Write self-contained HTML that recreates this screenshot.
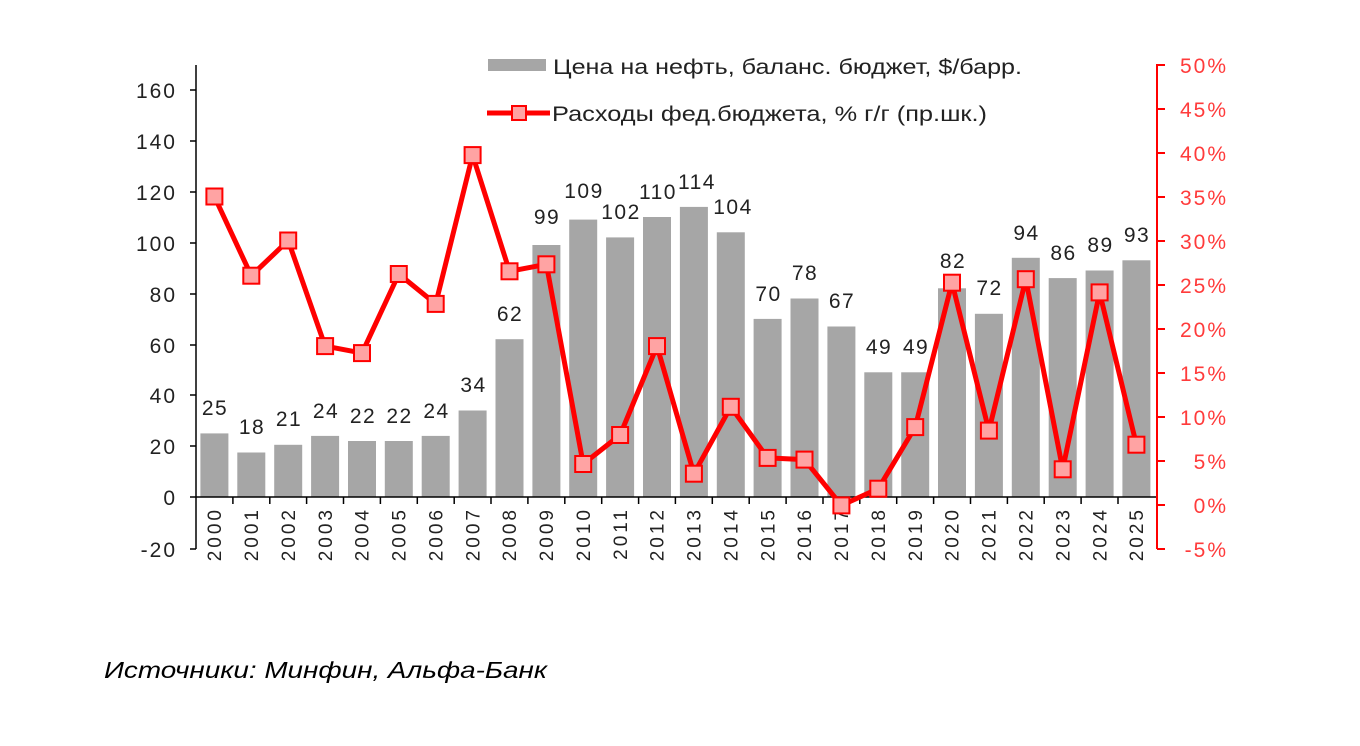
<!DOCTYPE html>
<html><head><meta charset="utf-8"><style>body{margin:0;background:#fff}svg{display:block}</style></head><body>
<svg width="1360" height="746" xmlns="http://www.w3.org/2000/svg" font-family="Liberation Sans, Arial, sans-serif">
<g fill="#a6a6a6">
<rect x="200.4" y="433.4" width="28" height="63.6"/><rect x="237.3" y="452.5" width="28" height="44.5"/><rect x="274.2" y="444.8" width="28" height="52.2"/><rect x="311.1" y="435.9" width="28" height="61.1"/><rect x="348" y="441" width="28" height="56"/><rect x="384.8" y="441" width="28" height="56"/><rect x="421.7" y="435.9" width="28" height="61.1"/><rect x="458.6" y="410.5" width="28" height="86.5"/><rect x="495.5" y="339.2" width="28" height="157.8"/><rect x="532.4" y="245" width="28" height="252"/><rect x="569.2" y="219.6" width="28" height="277.4"/><rect x="606.1" y="237.4" width="28" height="259.6"/><rect x="643" y="217" width="28" height="280"/><rect x="679.9" y="206.9" width="28" height="290.1"/><rect x="716.8" y="232.3" width="28" height="264.7"/><rect x="753.6" y="318.9" width="28" height="178.1"/><rect x="790.5" y="298.5" width="28" height="198.5"/><rect x="827.4" y="326.5" width="28" height="170.5"/><rect x="864.3" y="372.3" width="28" height="124.7"/><rect x="901.2" y="372.3" width="28" height="124.7"/><rect x="938" y="288.3" width="28" height="208.7"/><rect x="974.9" y="313.8" width="28" height="183.2"/><rect x="1011.8" y="257.8" width="28" height="239.2"/><rect x="1048.7" y="278.1" width="28" height="218.9"/><rect x="1085.6" y="270.5" width="28" height="226.5"/><rect x="1122.4" y="260.3" width="28" height="236.7"/>
</g>
<g font-size="21" fill="#222" text-anchor="middle" letter-spacing="1.5">
<text x="215" y="415">25</text><text x="252" y="434">18</text><text x="289" y="426">21</text><text x="326" y="418">24</text><text x="363" y="423">22</text><text x="399.5" y="423">22</text><text x="436.5" y="418">24</text><text x="473.5" y="392">34</text><text x="510" y="321">62</text><text x="547" y="224">99</text><text x="584" y="198">109</text><text x="621" y="219">102</text><text x="658" y="199">110</text><text x="697" y="189">114</text><text x="733" y="214">104</text><text x="768.5" y="301">70</text><text x="805" y="280">78</text><text x="842" y="308">67</text><text x="879" y="354">49</text><text x="916" y="354">49</text><text x="953" y="268">82</text><text x="989.5" y="295">72</text><text x="1026.5" y="240">94</text><text x="1063.5" y="260">86</text><text x="1100.5" y="252">89</text><text x="1137" y="242">93</text>
</g>
<g stroke="#000" stroke-width="1.5">
<line x1="196" y1="65" x2="196" y2="549"/>
<line x1="196" y1="497" x2="1157" y2="497"/>
<line x1="190" y1="90" x2="196" y2="90"/><line x1="190" y1="141" x2="196" y2="141"/><line x1="190" y1="192" x2="196" y2="192"/><line x1="190" y1="243" x2="196" y2="243"/><line x1="190" y1="294" x2="196" y2="294"/><line x1="190" y1="345" x2="196" y2="345"/><line x1="190" y1="395" x2="196" y2="395"/><line x1="190" y1="446" x2="196" y2="446"/><line x1="190" y1="497" x2="196" y2="497"/><line x1="190" y1="549" x2="196" y2="549"/>
<line x1="232.9" y1="497" x2="232.9" y2="504"/><line x1="269.8" y1="497" x2="269.8" y2="504"/><line x1="306.6" y1="497" x2="306.6" y2="504"/><line x1="343.5" y1="497" x2="343.5" y2="504"/><line x1="380.4" y1="497" x2="380.4" y2="504"/><line x1="417.3" y1="497" x2="417.3" y2="504"/><line x1="454.2" y1="497" x2="454.2" y2="504"/><line x1="491" y1="497" x2="491" y2="504"/><line x1="527.9" y1="497" x2="527.9" y2="504"/><line x1="564.8" y1="497" x2="564.8" y2="504"/><line x1="601.7" y1="497" x2="601.7" y2="504"/><line x1="638.6" y1="497" x2="638.6" y2="504"/><line x1="675.4" y1="497" x2="675.4" y2="504"/><line x1="712.3" y1="497" x2="712.3" y2="504"/><line x1="749.2" y1="497" x2="749.2" y2="504"/><line x1="786.1" y1="497" x2="786.1" y2="504"/><line x1="823" y1="497" x2="823" y2="504"/><line x1="859.8" y1="497" x2="859.8" y2="504"/><line x1="896.7" y1="497" x2="896.7" y2="504"/><line x1="933.6" y1="497" x2="933.6" y2="504"/><line x1="970.5" y1="497" x2="970.5" y2="504"/><line x1="1007.4" y1="497" x2="1007.4" y2="504"/><line x1="1044.2" y1="497" x2="1044.2" y2="504"/><line x1="1081.1" y1="497" x2="1081.1" y2="504"/><line x1="1118" y1="497" x2="1118" y2="504"/>
</g>
<g font-size="21" fill="#222" text-anchor="end" letter-spacing="2">
<text x="177" y="98">160</text><text x="177" y="149">140</text><text x="177" y="200">120</text><text x="177" y="251">100</text><text x="177" y="302">80</text><text x="177" y="353">60</text><text x="177" y="403">40</text><text x="177" y="454">20</text><text x="177" y="505">0</text><text x="177" y="557">-20</text>
</g>
<g stroke="#ff0000" stroke-width="2">
<line x1="1157" y1="64" x2="1157" y2="549"/>
<line x1="1157" y1="65" x2="1165" y2="65"/><line x1="1157" y1="109" x2="1165" y2="109"/><line x1="1157" y1="153" x2="1165" y2="153"/><line x1="1157" y1="197" x2="1165" y2="197"/><line x1="1157" y1="241" x2="1165" y2="241"/><line x1="1157" y1="285" x2="1165" y2="285"/><line x1="1157" y1="329" x2="1165" y2="329"/><line x1="1157" y1="373" x2="1165" y2="373"/><line x1="1157" y1="417" x2="1165" y2="417"/><line x1="1157" y1="461" x2="1165" y2="461"/><line x1="1157" y1="505" x2="1165" y2="505"/><line x1="1157" y1="549" x2="1165" y2="549"/>
</g>
<g font-size="21" fill="#ff3b3b" text-anchor="end" letter-spacing="2">
<text x="1228" y="73">50%</text><text x="1228" y="117">45%</text><text x="1228" y="161">40%</text><text x="1228" y="205">35%</text><text x="1228" y="249">30%</text><text x="1228" y="293">25%</text><text x="1228" y="337">20%</text><text x="1228" y="381">15%</text><text x="1228" y="425">10%</text><text x="1228" y="469">5%</text><text x="1228" y="513">0%</text><text x="1228" y="557">-5%</text>
</g>
<g font-size="19" fill="#222" text-anchor="end" letter-spacing="3">
<text transform="translate(221,507) rotate(-90)">2000</text><text transform="translate(258,507) rotate(-90)">2001</text><text transform="translate(294.9,507) rotate(-90)">2002</text><text transform="translate(331.8,507) rotate(-90)">2003</text><text transform="translate(368.7,507) rotate(-90)">2004</text><text transform="translate(405.5,507) rotate(-90)">2005</text><text transform="translate(442.4,507) rotate(-90)">2006</text><text transform="translate(479.3,507) rotate(-90)">2007</text><text transform="translate(516.2,507) rotate(-90)">2008</text><text transform="translate(553.1,507) rotate(-90)">2009</text><text transform="translate(589.9,507) rotate(-90)">2010</text><text transform="translate(626.8,507) rotate(-90)">2011</text><text transform="translate(663.7,507) rotate(-90)">2012</text><text transform="translate(700.6,507) rotate(-90)">2013</text><text transform="translate(737.5,507) rotate(-90)">2014</text><text transform="translate(774.3,507) rotate(-90)">2015</text><text transform="translate(811.2,507) rotate(-90)">2016</text><text transform="translate(848.1,507) rotate(-90)">2017</text><text transform="translate(885,507) rotate(-90)">2018</text><text transform="translate(921.9,507) rotate(-90)">2019</text><text transform="translate(958.7,507) rotate(-90)">2020</text><text transform="translate(995.6,507) rotate(-90)">2021</text><text transform="translate(1032.5,507) rotate(-90)">2022</text><text transform="translate(1069.4,507) rotate(-90)">2023</text><text transform="translate(1106.3,507) rotate(-90)">2024</text><text transform="translate(1143.1,507) rotate(-90)">2025</text>
</g>
<polyline fill="none" stroke="#ff0000" stroke-width="5" stroke-linejoin="round" points="214.4,196.5 251.3,275.7 288.2,240.5 325.1,346.1 362,353.1 398.8,274 435.7,303.9 472.6,155.1 509.5,271.3 546.4,264.3 583.2,464 620.1,435 657,346.1 693.9,473.7 730.8,406.8 767.6,457.9 804.5,459.6 841.4,505.4 878.3,488.7 915.2,427.1 952,282.7 988.9,430.6 1025.8,279.2 1062.7,469.3 1099.6,292.4 1136.4,444.7"/>
<g fill="#ffa3a3" stroke="#ff0000" stroke-width="2">
<rect x="206.4" y="188.5" width="16" height="16"/><rect x="243.3" y="267.7" width="16" height="16"/><rect x="280.2" y="232.5" width="16" height="16"/><rect x="317.1" y="338.1" width="16" height="16"/><rect x="354" y="345.1" width="16" height="16"/><rect x="390.8" y="266" width="16" height="16"/><rect x="427.7" y="295.9" width="16" height="16"/><rect x="464.6" y="147.1" width="16" height="16"/><rect x="501.5" y="263.3" width="16" height="16"/><rect x="538.4" y="256.3" width="16" height="16"/><rect x="575.2" y="456" width="16" height="16"/><rect x="612.1" y="427" width="16" height="16"/><rect x="649" y="338.1" width="16" height="16"/><rect x="685.9" y="465.7" width="16" height="16"/><rect x="722.8" y="398.8" width="16" height="16"/><rect x="759.6" y="449.9" width="16" height="16"/><rect x="796.5" y="451.6" width="16" height="16"/><rect x="833.4" y="497.4" width="16" height="16"/><rect x="870.3" y="480.7" width="16" height="16"/><rect x="907.2" y="419.1" width="16" height="16"/><rect x="944" y="274.7" width="16" height="16"/><rect x="980.9" y="422.6" width="16" height="16"/><rect x="1017.8" y="271.2" width="16" height="16"/><rect x="1054.7" y="461.3" width="16" height="16"/><rect x="1091.6" y="284.4" width="16" height="16"/><rect x="1128.4" y="436.7" width="16" height="16"/>
</g>
<rect x="488" y="59" width="58" height="12" fill="#a6a6a6"/>
<text x="553" y="74" font-size="21" fill="#222" textLength="469" lengthAdjust="spacingAndGlyphs">Цена на нефть, баланс. бюджет, $/барр.</text>
<line x1="487" y1="113" x2="550" y2="113" stroke="#ff0000" stroke-width="5"/>
<rect x="512" y="106" width="14" height="14" fill="#ffa3a3" stroke="#ff0000" stroke-width="2"/>
<text x="552" y="121" font-size="21" fill="#222" textLength="435" lengthAdjust="spacingAndGlyphs">Расходы  фед.бюджета,  % г/г (пр.шк.)</text>
<text x="104" y="678" font-size="23" font-style="italic" fill="#000" textLength="443" lengthAdjust="spacingAndGlyphs">Источники: Минфин, Альфа-Банк</text>
</svg>
</body></html>
